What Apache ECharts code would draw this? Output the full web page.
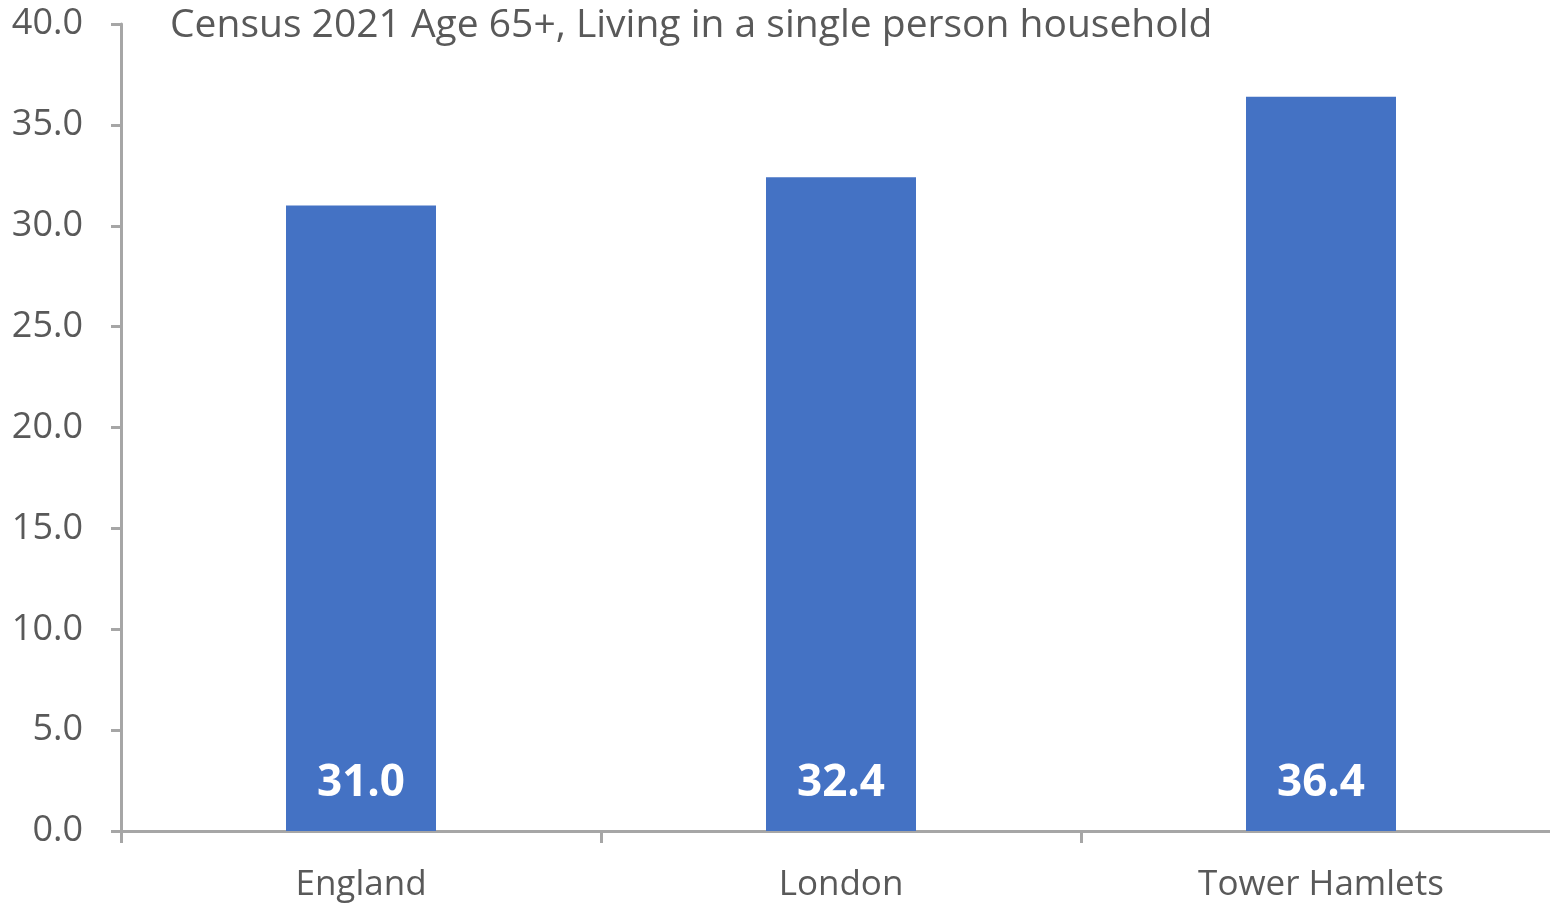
<!DOCTYPE html>
<html><head><meta charset="utf-8">
<script src="https://cdn.jsdelivr.net/npm/echarts@6/dist/echarts.min.js"></script>
<style>html,body{margin:0;padding:0;background:#fff}#c{width:1550px;height:903px}</style>
</head><body><div id="c"></div>
<script>
const categories = ['England', 'London', 'Tower Hamlets'];
const values = [31.0, 32.4, 36.4];
const titleText = 'Census 2021 Age 65+, Living in a single person household';
const font = '"Open Sans", sans-serif';
const chart = echarts.init(document.getElementById('c'), null, {renderer: 'canvas'});
chart.setOption({
  animation: false,
  backgroundColor: '#ffffff',
  title: {text: titleText, left: 165, top: 1, textStyle: {fontFamily: font, fontSize: 39, fontWeight: 'normal', color: '#595959'}},
  grid: {left: 121, width: 1440, top: 24, bottom: 72, containLabel: false, outerBoundsMode: 'none'},
  xAxis: {type: 'category', data: categories,
    axisLine: {lineStyle: {color: '#a6a6a6', width: 3}},
    axisTick: {show: true, length: 12, lineStyle: {color: '#a6a6a6', width: 3}},
    axisLabel: {fontFamily: font, fontSize: 35, color: '#595959', margin: 37}},
  yAxis: {type: 'value', min: 0, max: 40, interval: 5,
    axisLine: {show: true, lineStyle: {color: '#a6a6a6', width: 3}},
    axisTick: {show: true, length: 10, lineStyle: {color: '#a6a6a6', width: 3}},
    splitLine: {show: false},
    axisLabel: {fontFamily: font, fontSize: 36, color: '#595959', margin: 38, formatter: v => v.toFixed(1)}},
  series: [{type: 'bar', data: values, barWidth: 150,
    itemStyle: {color: '#4472c4'},
    label: {show: true, position: 'insideBottom', distance: 26, formatter: p => p.value.toFixed(1),
      fontFamily: font, fontSize: 44, fontWeight: 'bold', color: '#ffffff'}}]
});
</script></body></html>
